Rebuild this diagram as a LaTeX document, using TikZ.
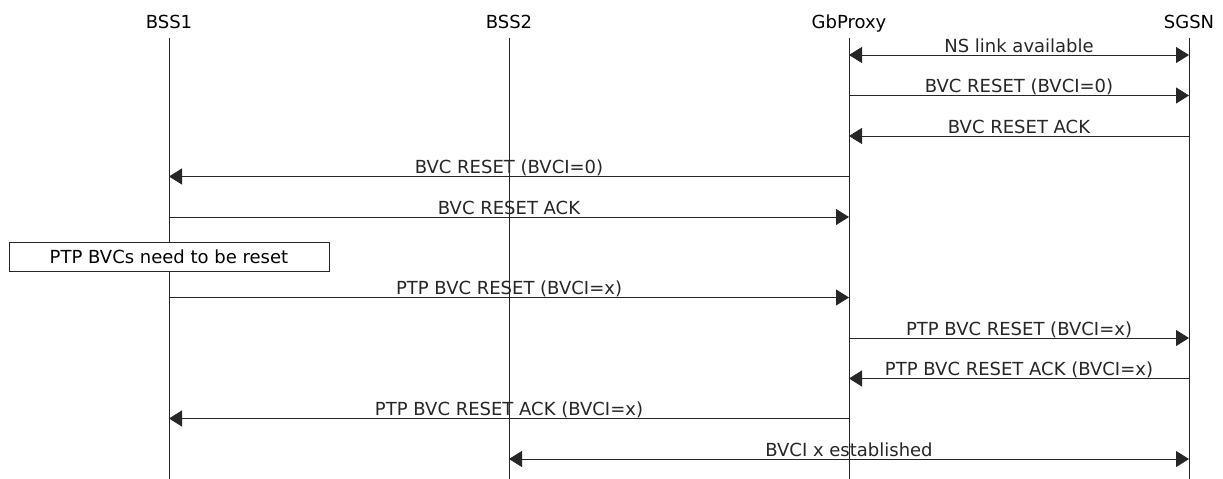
\documentclass[tikz,border=0pt]{standalone}
\usepackage{fontspec}
\setmainfont{DejaVu Sans}
\usepackage{tikz}
\usetikzlibrary{arrows.meta,positioning,calc}
\tikzset{
  entity/.style={anchor=base, inner sep=0pt, font=\fontsize{18}{21}\selectfont},
  lifeline/.style={draw, line width=0.9pt, black!85},
  msg/.style={line width=0.9pt, black!85, -{Triangle[length=13pt, width=16pt]}},
  bimsg/.style={line width=0.9pt, black!85, {Triangle[length=13pt, width=16pt]}-{Triangle[length=13pt, width=16pt]}},
  lbl/.style={midway, anchor=base, yshift=3pt, inner sep=0pt, font=\fontsize{18}{21}\selectfont},
  notebox/.style={rectangle, draw, line width=0.9pt, black!85, fill=white, text=black, minimum width=320pt, minimum height=29pt, inner sep=0pt, font=\fontsize{18}{21}\selectfont}
}

\begin{document}
\begin{tikzpicture}[x=1pt, y=1pt]
  \useasboundingbox (0,0) rectangle (1223,-479);
  % entities
  \node[entity] (bss1) at (169,-28) {BSS1};
  \node[entity] (bss2) at (509,-28) {BSS2};
  \node[entity] (gbp)  at (849,-28) {GbProxy};
  \node[entity] (sgsn) at (1189,-28) {SGSN};
  \coordinate (top) at (0,-38);
  \coordinate (bottom) at (0,-479);
  \draw[lifeline] (bss1 |- top) -- (bss1 |- bottom);
  \draw[lifeline] (bss2 |- top) -- (bss2 |- bottom);
  \draw[lifeline] (gbp |- top) -- (gbp |- bottom);
  \draw[lifeline] (sgsn |- top) -- (sgsn |- bottom);
  % message rows
  \coordinate (r1) at (0,-55);
  \coordinate (r2) at (0,-95.5);
  \coordinate (r3) at (0,-136);
  \coordinate (r4) at (0,-176.5);
  \coordinate (r5) at (0,-217);
  \coordinate (r6) at (0,-256.5);
  \coordinate (r7) at (0,-297.5);
  \coordinate (r8) at (0,-338);
  \coordinate (r9) at (0,-378.5);
  \coordinate (r10) at (0,-418.5);
  \coordinate (r11) at (0,-459);
  % messages
  \draw[bimsg] (gbp |- r1) -- (sgsn |- r1) node[lbl] {NS link available};
  \draw[msg] (gbp |- r2) -- (sgsn |- r2) node[lbl] {BVC RESET (BVCI=0)};
  \draw[msg] (sgsn |- r3) -- (gbp |- r3) node[lbl] {BVC RESET ACK};
  \draw[msg] (gbp |- r4) -- (bss1 |- r4) node[lbl] {BVC RESET (BVCI=0)};
  \draw[msg] (bss1 |- r5) -- (gbp |- r5) node[lbl] {BVC RESET ACK};
  \node[notebox] (reset) at (bss1 |- r6) {PTP BVCs need to be reset};
  \draw[msg] (bss1 |- r7) -- (gbp |- r7) node[lbl] {PTP BVC RESET (BVCI=x)};
  \draw[msg] (gbp |- r8) -- (sgsn |- r8) node[lbl] {PTP BVC RESET (BVCI=x)};
  \draw[msg] (sgsn |- r9) -- (gbp |- r9) node[lbl] {PTP BVC RESET ACK (BVCI=x)};
  \draw[msg] (gbp |- r10) -- (bss1 |- r10) node[lbl] {PTP BVC RESET ACK (BVCI=x)};
  \draw[bimsg] (bss2 |- r11) -- (sgsn |- r11) node[lbl] {BVCI x established};
\end{tikzpicture}
\end{document}
